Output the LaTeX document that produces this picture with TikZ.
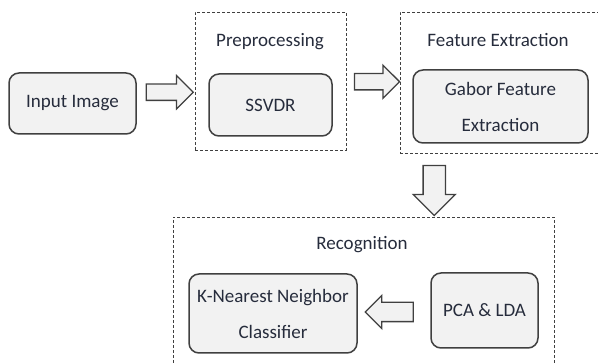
\documentclass[tikz,border=0pt]{standalone}
\usepackage{fontspec}
\setmainfont{Carlito}
\usetikzlibrary{shapes.arrows,calc,positioning}
\definecolor{txt}{RGB}{38,44,60}
\definecolor{boxfill}{RGB}{242,242,242}
\definecolor{edge}{RGB}{64,64,64}

\begin{document}
\begin{tikzpicture}[x=1pt,y=-1pt,
    font=\fontsize{19}{36}\selectfont,text=txt,
    block/.style={draw=edge,line width=1.5pt,fill=boxfill,rounded corners=10pt,align=center,inner sep=0pt},
    stage/.style={draw=edge,line width=0.9pt,dash pattern=on 3pt off 2pt,inner sep=0pt},
    fatarrow/.style={single arrow,draw=edge,line width=1.3pt,fill=boxfill,inner xsep=0pt,single arrow head indent=0pt}]
  \useasboundingbox (0,0) rectangle (598,363);

  % stages
  \node[stage,minimum width=151,minimum height=138] (prep) at (270.5,81) {};
  \node[stage,minimum width=202,minimum height=141] (feat) at (501,82.5) {};
  \node[stage,minimum width=381,minimum height=150] (recog) at (363.5,292) {};
  \node (preplbl) at (270,42) {Preprocessing};
  \node (featlbl) at (498,40) {Feature Extraction};
  \node (recoglbl) at (362,245) {Recognition};

  % blocks
  \node[block,minimum width=127,minimum height=61] (inp) at (72.5,103.5) {Input Image};
  \node[block,minimum width=123,minimum height=62] (ssvdr) at (270.5,105) {SSVDR};
  \node[block,minimum width=175,minimum height=73] (gabor) at (500.5,106.5) {Gabor Feature\\Extraction};
  \node[block,minimum width=107,minimum height=75] (pca) at (484.5,310.5) {PCA \& LDA};
  \node[block,minimum width=168,minimum height=79] (knn) at (273,313.5) {K-Nearest Neighbor\\Classifier};

  % block arrows
  \node[fatarrow,minimum height=47,inner ysep=7.5pt,single arrow head extend=8.5pt]
    (a1) at ($(inp.east)!0.5!(prep.west)$) {};
  \node[fatarrow,minimum height=45,inner ysep=7.5pt,single arrow head extend=8.5pt]
    (a2) at ($(prep.east)!0.5!(feat.west)$) {};
  \node[fatarrow,shape border rotate=270,minimum height=50,inner ysep=0pt,inner xsep=10.5pt,single arrow head extend=10pt,xshift=2pt]
    (a3) at ($(feat.south)!0.5!(recog.north)$ -| gabor.south) {};
  \node[fatarrow,shape border rotate=180,minimum height=48,inner ysep=9pt,single arrow head extend=7pt]
    (a4) at ($(knn.east)!0.5!(pca.west)$) {};
\end{tikzpicture}
\end{document}
